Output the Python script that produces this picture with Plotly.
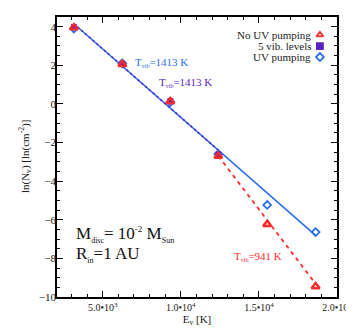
import numpy as np
import plotly.graph_objects as go

# ---- data ----
energy = [3150, 6250, 9330, 12400, 15530, 18630]
no_uv = [3.95, 2.05, 0.12, -2.70, -6.23, -9.46]
five_vib_E = [3150, 6250, 9330, 12400]
five_vib = [3.98, 2.08, 0.15, -2.62]
uv_pump = [3.90, 2.10, 0.10, -2.60, -5.23, -6.64]

T_uv = 1413.0
T_5vib = 1413.0
T_nouv = 941.0
icpt_uv = 6.38
icpt_5vib = 6.38
icpt_nouv = 10.48

xtick_vals = [5000, 10000, 15000, 20000]
xtick_text = ["5.0\u202210<sup>3</sup>", "1.0\u202210<sup>4</sup>",
              "1.5\u202210<sup>4</sup>", "2.0\u202210<sup>4</sup>"]
ytick_vals = [4, 2, 0, -2, -4, -6, -8, -10]

legend_names = ["No UV pumping", "5 vib. levels", "UV pumping"]

BLUE = "#2a6ee8"
PURPLE = "#5a22c0"
RED = "#ff2a2a"
FONT = "Liberation Serif"


def small(s, px):
    return '<span style="font-size:%dpx">%s</span>' % (px, s)


fig = go.Figure()

# fit lines
e_uv = np.array([energy[0], energy[-1]], dtype=float)
fig.add_trace(go.Scatter(x=e_uv, y=icpt_uv - e_uv / T_uv, mode="lines",
                         line=dict(color=BLUE, width=1.6), showlegend=False))
e_5 = np.array([five_vib_E[0], five_vib_E[-1]], dtype=float)
fig.add_trace(go.Scatter(x=e_5, y=icpt_5vib - e_5 / T_5vib, mode="lines",
                         line=dict(color=PURPLE, width=1.6, dash="2px,3px"), showlegend=False))
e_no = np.array([energy[3], energy[-1]], dtype=float)
fig.add_trace(go.Scatter(x=e_no, y=icpt_nouv - e_no / T_nouv, mode="lines",
                         line=dict(color=RED, width=1.8, dash="4px,4px"), showlegend=False))

# markers
fig.add_trace(go.Scatter(x=energy, y=uv_pump, mode="markers",
                         marker=dict(symbol="diamond-open", size=6, color=BLUE, line=dict(width=1.8)),
                         showlegend=False))
fig.add_trace(go.Scatter(x=five_vib_E, y=five_vib, mode="markers",
                         marker=dict(symbol="square", size=5, color=PURPLE, line=dict(width=1, color=PURPLE)),
                         showlegend=False))
fig.add_trace(go.Scatter(x=energy, y=no_uv, mode="markers",
                         marker=dict(symbol="triangle-up-open", size=7, color=RED, line=dict(width=2.4)),
                         showlegend=False))

# manual legend markers on overlay axes
leg_y = [0.936, 0.896, 0.857]
leg_sym = ["triangle-up-open", "square", "diamond-open"]
leg_col = [RED, PURPLE, BLUE]
for name, yy, sym, col in zip(legend_names, leg_y, leg_sym, leg_col):
    fig.add_trace(go.Scatter(x=[0.939], y=[yy], xaxis="x2", yaxis="y2", mode="markers",
                             marker=dict(symbol=sym, size=6, color=col, line=dict(width=1.8, color=col)),
                             showlegend=False, hoverinfo="skip"))
    fig.add_annotation(x=0.915, y=yy, xref="paper", yref="paper", text=name, showarrow=False,
                       xanchor="right", yanchor="middle", font=dict(family=FONT, size=11, color="#222"))

# text annotations
fig.add_annotation(x=0.27, y=0.839, xref="paper", yref="paper", showarrow=False,
                   xanchor="left", yanchor="middle",
                   text="T<sub>" + small("vib", 6) + "</sub>=1413 K",
                   font=dict(family=FONT, size=11, color=BLUE))
fig.add_annotation(x=0.357, y=0.767, xref="paper", yref="paper", showarrow=False,
                   xanchor="left", yanchor="middle",
                   text="T<sub>" + small("vib", 6) + "</sub>=1413 K",
                   font=dict(family=FONT, size=11, color=PURPLE))
fig.add_annotation(x=0.625, y=0.143, xref="paper", yref="paper", showarrow=False,
                   xanchor="left", yanchor="middle",
                   text="T<sub>" + small("vib", 6) + "</sub>=941 K",
                   font=dict(family=FONT, size=11, color=RED))
fig.add_annotation(x=0.06, y=0.222, xref="paper", yref="paper", showarrow=False,
                   xanchor="left", yanchor="middle",
                   text="M<sub>" + small("disc", 8) + "</sub>= 10<sup>" + small("-2", 9) + "</sup> M<sub>" + small("Sun", 8) + "</sub>",
                   font=dict(family=FONT, size=17, color="#111"))
fig.add_annotation(x=0.06, y=0.152, xref="paper", yref="paper", showarrow=False,
                   xanchor="left", yanchor="middle",
                   text="R<sub>" + small("in", 8) + "</sub>=1 AU",
                   font=dict(family=FONT, size=17, color="#111"))
# y-axis title
fig.add_annotation(x=-0.114, y=0.5, xref="paper", yref="paper", showarrow=False,
                   xanchor="center", yanchor="middle", textangle=-90,
                   text="ln(N<sub>v</sub>) [ln(cm<sup>-2</sup>)]",
                   font=dict(family=FONT, size=11, color="#222"))

axis_common = dict(showgrid=False, zeroline=False, showline=True, linecolor="black", linewidth=1.5,
                   mirror="allticks", ticks="inside", ticklen=6, tickcolor="black", tickwidth=1.2,
                   automargin=False)

# page body has an 8px default margin; figure is sized to fit the 354x334 window
fig.update_layout(
    width=346, height=326,
    margin=dict(l=49, r=17, t=9, b=37),
    paper_bgcolor="white", plot_bgcolor="white",
    xaxis=dict(range=[2070, 20000], tickvals=xtick_vals, ticktext=xtick_text,
               tickfont=dict(family=FONT, size=10, color="#222"),
               minor=dict(ticks="inside", ticklen=3, dtick=1000, tick0=0, tickcolor="black"),
               title=dict(text="E<sub>v</sub> [K]", font=dict(family=FONT, size=11, color="#222"), standoff=0),
               **axis_common),
    yaxis=dict(range=[-10, 4.5], tickvals=ytick_vals, ticklabelstandoff=-3,
               tickfont=dict(family=FONT, size=11, color="#222"),
               minor=dict(ticks="inside", ticklen=3, dtick=0.5, tick0=0, tickcolor="black"),
               **axis_common),
    xaxis2=dict(range=[0, 1], overlaying="x", visible=False, fixedrange=True),
    yaxis2=dict(range=[0, 1], overlaying="y", visible=False, fixedrange=True),
    font=dict(family=FONT),
)

fig.write_html("out.html")
